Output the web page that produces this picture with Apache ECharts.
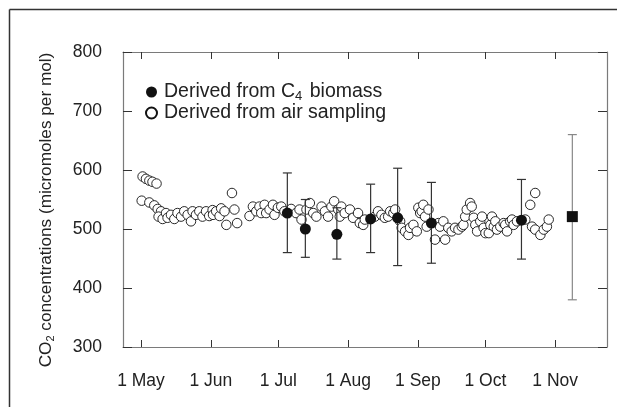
<!DOCTYPE html>
<html>
<head>
<meta charset="utf-8">
<script src="https://cdn.jsdelivr.net/npm/echarts@6/dist/echarts.min.js"></script>
<style>
html,body{margin:0;padding:0;background:#fff;}
#chart{width:617px;height:407px;}
</style>
</head>
<body>
<div id="chart"></div>
<script>
// x values are days after 1 May
const monthTickDays = [0, 31, 61, 92, 123, 153, 184];
const monthLabels = ['1 May', '1 Jun', '1 Jul', '1 Aug', '1 Sep', '1 Oct', '1 Nov'];

// Derived from air sampling (open circles)
const airDays = [0.7, 2.2, 3.7, 5.1, 6.9,
  0.3, 3.7, 5.9, 7.4, 8.9, 7.8, 9.6, 11.1, 11.8, 13.3, 14.8, 16.2, 17.8, 19.2, 20.7, 22.2, 22.9, 24.4, 25.9, 27.3, 28.9, 30.3, 31.8,
  32.0, 33.4, 34.9, 35.6, 37.1, 37.9, 40.4, 41.5, 42.7,
  48.2, 49.7, 51.2, 52.6, 53.4, 54.9, 55.6, 57.1, 58.6, 59.3, 60.8, 62.3, 63.7, 66.7, 68.9, 70.4,
  71.3, 73.5, 75.0, 76.5, 77.9, 80.2, 81.7, 83.1, 84.6, 85.8, 87.6, 88.3, 89.0, 90.5, 92.8, 94.2, 96.4, 97.2, 98.7, 99.4,
  103.9, 105.3, 106.8, 108.3, 109.8, 110.7, 112.1, 112.9, 115.1, 115.8, 117.3, 118.8, 119.5, 121.0, 122.5,
  123.2, 124.0, 124.7, 125.4, 126.2, 126.9, 127.7, 130.6, 132.1, 132.8, 134.3, 135.1, 136.5, 138.0, 139.5, 141.0,
  142.5, 143.2, 144.0, 144.7, 146.2, 146.9,
  147.8, 148.5, 149.3, 150.7, 151.5, 152.2, 153.0, 154.5, 155.2, 155.9, 156.7, 157.4, 158.1, 159.6, 161.1, 161.8,
  162.6, 164.0, 164.8, 165.5, 167.0, 170.7, 172.9, 175.1, 173.7, 175.1, 177.4, 178.9, 180.3, 181.1];
const airCO2 = [589, 585, 582, 580, 577,
  548, 545, 540, 534, 530, 521, 517, 527, 519, 524, 517, 527, 521, 530, 524, 513, 530, 524, 530, 521, 530, 522, 532,
  524, 530, 522, 535, 530, 507, 561, 533, 510,
  522, 538, 530, 538, 527, 541, 527, 533, 541, 524, 536, 538, 530, 534, 527, 533,
  516, 533, 544, 527, 521, 538, 530, 521, 538, 547, 533, 521, 538, 527, 533, 519, 527, 510, 507, 516,
  521, 530, 524, 519, 521, 530, 527, 533, 513, 502, 496, 490, 502, 507, 496,
  536, 527, 530, 541, 521, 504, 533, 482, 510, 504, 513, 482, 502, 496, 502, 499,
  504, 507, 521, 533, 544, 538,
  519, 507, 496, 513, 521, 502, 493, 493, 507, 521, 504, 513, 499, 504, 510, 507,
  496, 513, 516, 507, 513, 516, 541, 561, 504, 499, 490, 499, 504, 516];

// Derived from C4 biomass (filled circles with error bars)
const c4Days = [65, 73, 87, 102, 114, 129, 169];
const c4CO2 = [527, 500, 491, 517, 519, 510, 515];
const c4Low = [460, 452, 449, 460, 438, 442, 449];
const c4High = [595, 550, 536, 576, 603, 579, 584];

// Season mean (filled square)
const meanDay = [191.6];
const meanCO2 = [521];
const meanLow = [380];
const meanHigh = [660];

const FONT = '"Liberation Sans", Arial, Helvetica, sans-serif';

const airData = airDays.map((d, i) => [d, airCO2[i]]);
const c4Data = c4Days.map((d, i) => [d, c4CO2[i]]);
const c4Err = c4Days.map((d, i) => [d, c4Low[i], c4High[i]]);
const meanData = meanDay.map((d, i) => [d, meanCO2[i]]);
const meanErr = meanDay.map((d, i) => [d, meanLow[i], meanHigh[i]]);

function errRender(color) {
  return function (params, api) {
    const x = api.value(0);
    const lo = api.coord([x, api.value(1)]);
    const hi = api.coord([x, api.value(2)]);
    const cw = 4.5;
    const style = { stroke: color, lineWidth: 1.2 };
    return {
      type: 'group',
      children: [
        { type: 'line', shape: { x1: lo[0], y1: lo[1], x2: hi[0], y2: hi[1] }, style },
        { type: 'line', shape: { x1: lo[0] - cw, y1: lo[1], x2: lo[0] + cw, y2: lo[1] }, style },
        { type: 'line', shape: { x1: hi[0] - cw, y1: hi[1], x2: hi[0] + cw, y2: hi[1] }, style }
      ]
    };
  };
}

const axisColor = '#7a7a7a';
const chart = echarts.init(document.getElementById('chart'), null, { renderer: 'canvas' });

const xBase = {
  type: 'value', min: -8, max: 207,
  splitLine: { show: false },
  axisLine: { show: true, onZero: false, lineStyle: { color: axisColor, width: 1.2 } },
  axisTick: { show: true, inside: true, length: 7, customValues: monthTickDays, lineStyle: { color: '#333', width: 1 } }
};
const yBase = {
  type: 'value', min: 300, max: 800, interval: 100,
  splitLine: { show: false },
  axisLine: { show: true, onZero: false, lineStyle: { color: axisColor, width: 1.2 } },
  axisTick: { show: true, inside: true, length: 9, lineStyle: { color: '#333', width: 1 } }
};

chart.setOption({
  animation: false,
  backgroundColor: '#fff',
  textStyle: { fontFamily: FONT },
  grid: { left: 123, right: 10, top: 52, bottom: 60 },
  graphic: [
    { type: 'line', shape: { x1: 9.5, y1: 9.5, x2: 617, y2: 9.5 }, style: { stroke: '#333', lineWidth: 1.5 } },
    { type: 'line', shape: { x1: 9.5, y1: 9.5, x2: 9.5, y2: 407 }, style: { stroke: '#333', lineWidth: 1.5 } },
    {
      type: 'text', x: 46, y: 210, rotation: Math.PI / 2,
      style: {
        text: '{t|CO}{s|2}{t| concentrations (micromoles per mol)}',
        align: 'center', verticalAlign: 'middle',
        fontFamily: FONT, fontSize: 17.2, fill: '#222',
        rich: {
          t: { fontFamily: FONT, fontSize: 17.2, fill: '#222', lineHeight: 20 },
          s: { fontFamily: FONT, fontSize: 11, fill: '#222', lineHeight: 8, verticalAlign: 'bottom' }
        }
      }
    }
  ],
  legend: {
    orient: 'vertical',
    left: 140, top: 77,
    itemWidth: 11, itemHeight: 11, itemGap: 0,
    data: ['c4', 'air'],
    formatter: function (name) {
      return name === 'c4' ? '{t|Derived from C}{s|4}{t| biomass}' : '{t|Derived from air sampling}';
    },
    textStyle: {
      fontFamily: FONT, fontSize: 19.5, color: '#222',
      rich: {
        t: { fontFamily: FONT, fontSize: 19.5, color: '#222', lineHeight: 22, padding: [0, 0, 0, 2] },
        s: { fontFamily: FONT, fontSize: 13, color: '#222', lineHeight: 8, verticalAlign: 'bottom' }
      }
    }
  },
  xAxis: [
    Object.assign({}, xBase, {
      position: 'bottom',
      axisLabel: {
        show: true, customValues: monthTickDays, margin: 25, fontSize: 17.5, color: '#222', fontFamily: FONT,
        formatter: v => monthLabels[monthTickDays.indexOf(v)] || ''
      }
    }),
    Object.assign({}, xBase, { position: 'top', axisLabel: { show: false } })
  ],
  yAxis: [
    Object.assign({}, yBase, {
      position: 'left',
      axisLabel: { show: true, margin: 21, fontSize: 17.5, color: '#222', fontFamily: FONT }
    }),
    Object.assign({}, yBase, { position: 'right', axisLabel: { show: false } })
  ],
  series: [
    {
      name: 'air', type: 'scatter', data: airData, symbol: 'circle', symbolSize: 9.5, z: 2,
      itemStyle: { color: '#fff', borderColor: '#111', borderWidth: 0.9, opacity: 1 }
    },
    {
      name: 'c4err', type: 'custom', data: c4Err, renderItem: errRender('#333'), z: 3, silent: true
    },
    {
      name: 'meanerr', type: 'custom', data: meanErr, renderItem: errRender('#888'), z: 3, silent: true
    },
    {
      name: 'c4', type: 'scatter', data: c4Data, symbol: 'circle', symbolSize: 11, z: 4,
      itemStyle: { color: '#111', borderColor: '#111', borderWidth: 0, opacity: 1 }
    },
    {
      name: 'mean', type: 'scatter', data: meanData, symbol: 'rect', symbolSize: 11, z: 4,
      itemStyle: { color: '#111', opacity: 1 }
    }
  ]
});
</script>
</body>
</html>
